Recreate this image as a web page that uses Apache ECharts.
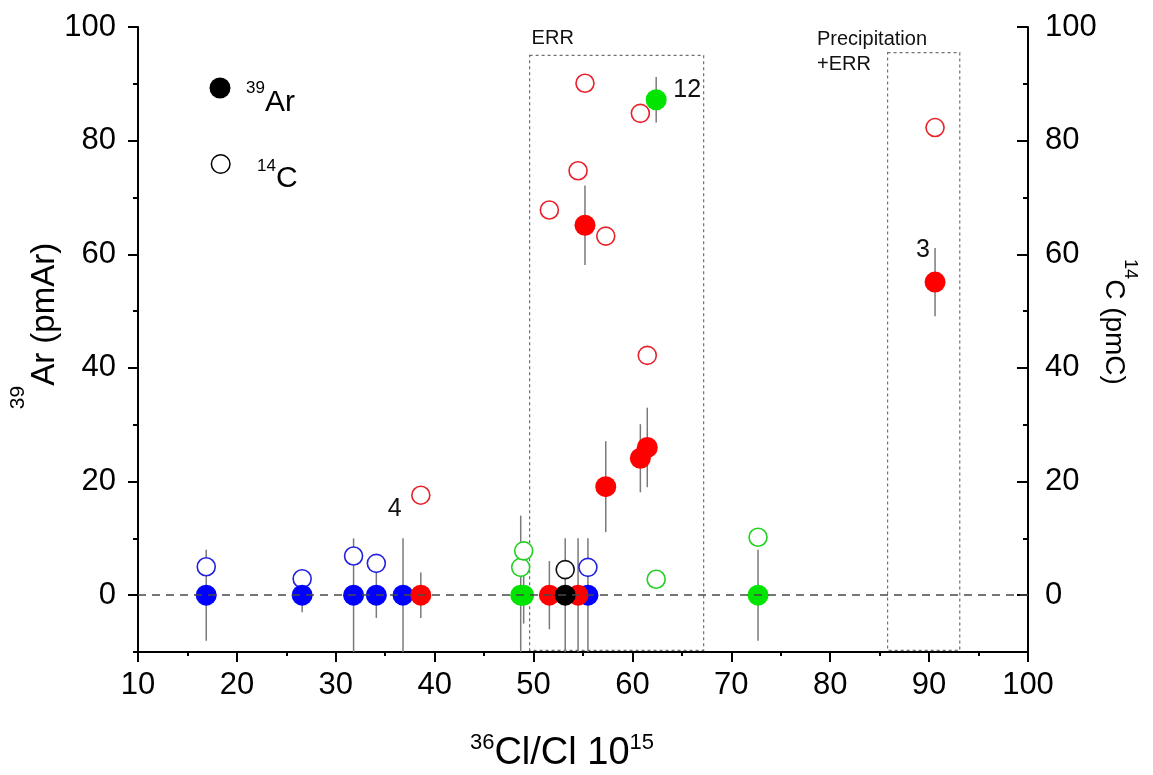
<!DOCTYPE html>
<html>
<head>
<meta charset="utf-8">
<title>39Ar and 14C versus 36Cl/Cl</title>
<script src="https://cdn.jsdelivr.net/npm/echarts@6/dist/echarts.min.js"></script>
<style>
  html, body { margin: 0; padding: 0; background: #fff; }
  #chart { width: 1153px; height: 775px; }
</style>
</head>
<body>
<div id="chart"></div>
<script>
// ---- sample data -------------------------------------------------------
// 36Cl/Cl ratio (x 10^15) for each sample
const clRatio = [16.9, 26.6, 31.8, 34.1, 36.8, 55.5,
                 38.6, 51.6, 54.5, 55.2, 57.3, 60.8, 61.5, 90.6,
                 48.7, 49.0, 62.4, 72.7,
                 53.2];
// 39Ar activity (pmAr) and its uncertainty
const ar39 = [0, 0, 0, 0, 0, 0,
              0, 0, 0, 65.1, 19.1, 24.1, 26.0, 55.1,
              0, 0, 87.2, 0,
              0];
const ar39Err = [8, 3, 10, 4, 10, 10,
                 4, 6, 10, 7, 8, 6, 7, 6,
                 14, 5, 4, 8,
                 10];
// 14C activity (pmC); null where not measured
const c14 = [5.0, 2.9, 6.9, 5.6, null, 4.9,
             17.6, 67.8, 74.7, 90.1, 63.2, 84.8, 42.2, 82.3,
             4.9, 7.8, 2.8, 10.2,
             4.5];
// sample group (index into the palettes below)
const sampleGroup = [0, 0, 0, 0, 0, 0,
                     1, 1, 1, 1, 1, 1, 1, 1,
                     2, 2, 2, 2,
                     3];
// sample numbers written next to selected points
const sampleTag = ['', '', '', '', '', '',
                   '4', '', '', '', '', '', '', '3',
                   '', '', '12', '',
                   ''];

// process windows along the 36Cl/Cl axis
const boxFrom = [49.6, 85.8];
const boxTo = [67.2, 93.1];
const boxTop = [95.0, 95.5];
const boxBottom = [-9.7, -9.7];
const boxText = ['ERR', 'Precipitation\n+ERR'];

// axis ticks
const xTicks = [10, 20, 30, 40, 50, 60, 70, 80, 90, 100];
const yMajor = [0, 20, 40, 60, 80, 100];
const yMinor = [-10, 10, 30, 50, 70, 90];
const Y_MIN = -10, Y_MAX = 100;

// ---- styling -----------------------------------------------------------
const FONT = "'Liberation Sans', Arial, Helvetica, sans-serif";
const fillColor = ['#0000ff', '#ff0000', '#00e400', '#000000'];
const ringColor = ['#2222dd', '#e8202a', '#22d022', '#111111'];
// where each sample number sits relative to its marker
const tagPlacement = {
  '4':  { on: 'c14', offset: [-26, 14] },
  '12': { on: 'ar',  offset: [31, -10] },
  '3':  { on: 'ar',  offset: [-12, -32] }
};
const boxTextPlacement = [
  { dx: 2, dy: -4.5 },
  { dx: -70.6, dy: 24 }
];

function tagLabel(i, kind) {
  const t = sampleTag[i];
  if (!t || tagPlacement[t].on !== kind) return undefined;
  return {
    show: true, position: 'inside', formatter: t,
    offset: tagPlacement[t].offset,
    fontFamily: FONT, fontSize: 25, color: '#111'
  };
}

function richTitle(mainSize, mainLine, supSize) {
  return {
    main: { fontFamily: FONT, fontSize: mainSize, lineHeight: mainLine, fill: '#000' },
    sup: { fontFamily: FONT, fontSize: supSize, lineHeight: supSize, verticalAlign: 'top', fill: '#000' }
  };
}

const series = [];

// dashed zero reference
series.push({
  type: 'line', data: [], z: 1, silent: true,
  markLine: {
    silent: true, symbol: 'none', label: { show: false },
    lineStyle: { color: '#4a4a4a', width: 1.5, type: [8, 6] },
    data: [{ yAxis: 0 }]
  }
});

// process windows
series.push({
  type: 'custom', z: 1, silent: true,
  data: boxFrom.map((v, i) => [v, boxTo[i], boxTop[i], boxBottom[i]]),
  renderItem(params, api) {
    const i = params.dataIndex;
    const p0 = api.coord([api.value(0), api.value(2)]);
    const p1 = api.coord([api.value(1), api.value(3)]);
    const pl = boxTextPlacement[i];
    return {
      type: 'group',
      children: [
        {
          type: 'rect',
          shape: { x: p0[0], y: p0[1], width: p1[0] - p0[0], height: p1[1] - p0[1] },
          style: { fill: 'none', stroke: '#707070', lineWidth: 1.2, lineDash: [3, 3] }
        },
        {
          type: 'text',
          x: p0[0] + pl.dx, y: p0[1] + pl.dy,
          style: {
            text: boxText[i], fontFamily: FONT, fontSize: 20, lineHeight: 25,
            fill: '#111', align: 'left', verticalAlign: 'bottom'
          }
        }
      ]
    };
  }
});

// 39Ar error bars
series.push({
  type: 'custom', z: 2, silent: true, clip: true,
  data: clRatio.map((x, i) => [x, ar39[i], ar39Err[i]]),
  renderItem(params, api) {
    const x = api.value(0), y = api.value(1), e = api.value(2);
    const lo = Math.max(y - e, Y_MIN), hi = Math.min(y + e, Y_MAX);
    const a = api.coord([x, lo]), b = api.coord([x, hi]);
    return {
      type: 'line',
      shape: { x1: a[0], y1: a[1], x2: b[0], y2: b[1] },
      style: { stroke: '#7a7a7a', lineWidth: 1.5 }
    };
  }
});

// 14C (open circles) then 39Ar (filled circles), one pair per group
for (let g = 0; g < fillColor.length; g++) {
  const cData = [], aData = [];
  clRatio.forEach((x, i) => {
    if (sampleGroup[i] !== g) return;
    if (c14[i] !== null) {
      const item = { value: [x, c14[i]] };
      const lb = tagLabel(i, 'c14');
      if (lb) item.label = lb;
      cData.push(item);
    }
    const a = { value: [x, ar39[i]] };
    const la = tagLabel(i, 'ar');
    if (la) a.label = la;
    aData.push(a);
  });
  series.push({
    name: '14C', type: 'scatter', yAxisIndex: 1, z: 3,
    symbol: 'circle', symbolSize: 18,
    itemStyle: { color: '#fff', borderColor: ringColor[g], borderWidth: 1.6, opacity: 1 },
    data: cData
  });
  series.push({
    name: '39Ar', type: 'scatter', yAxisIndex: 0, z: 4,
    symbol: 'circle', symbolSize: 21,
    itemStyle: { color: fillColor[g], opacity: 1 },
    data: aData
  });
}

const axisLineStyle = { color: '#000', width: 2 };
const tickLabel = { fontFamily: FONT, fontSize: 31, color: '#000' };

function yAxisDef(pos, kind) {
  const major = kind === 'major';
  return {
    type: 'value', position: pos, min: Y_MIN, max: Y_MAX, interval: 10,
    splitLine: { show: false },
    axisLine: { show: major, onZero: false, lineStyle: axisLineStyle },
    axisTick: {
      show: true, inside: pos === 'right',
      length: major ? (pos === 'right' ? 11 : 10) : 5,
      customValues: major ? yMajor : yMinor,
      lineStyle: { color: '#000', width: 2 }
    },
    axisLabel: major
      ? Object.assign({ customValues: yMajor, margin: pos === 'right' ? 17 : 22 }, tickLabel)
      : { show: false }
  };
}

const option = {
  animation: false,
  backgroundColor: '#fff',
  grid: { left: 138, right: 125, top: 27, bottom: 123, containLabel: false },
  xAxis: {
    type: 'value', min: 10, max: 100, interval: 10,
    splitLine: { show: false },
    axisLine: { onZero: false, lineStyle: axisLineStyle },
    axisTick: { length: 10, lineStyle: { color: '#000', width: 2 } },
    minorTick: { show: true, splitNumber: 2, length: 4, lineStyle: { color: '#000', width: 2 } },
    axisLabel: Object.assign({ margin: 18, customValues: xTicks }, tickLabel)
  },
  yAxis: [
    yAxisDef('left', 'major'),
    yAxisDef('right', 'major'),
    yAxisDef('left', 'minor'),
    yAxisDef('right', 'minor')
  ],
  graphic: [
    // marker key
    { type: 'circle', shape: { cx: 220, cy: 88, r: 10.5 }, style: { fill: '#000' } },
    {
      type: 'text', x: 246, y: 102.5,
      style: { text: '{sup|39}{main|Ar}', align: 'left', verticalAlign: 'middle', rich: richTitle(30, 46, 17) }
    },
    { type: 'circle', shape: { cx: 220.7, cy: 164, r: 9.3 }, style: { fill: '#fff', stroke: '#000', lineWidth: 1.5 } },
    {
      type: 'text', x: 257, y: 179,
      style: { text: '{sup|14}{main|C}', align: 'left', verticalAlign: 'middle', rich: richTitle(30, 43, 17) }
    },
    // axis titles
    {
      type: 'text', x: 45.4, y: 326, rotation: Math.PI / 2,
      style: { text: '{sup|39}{main|Ar (pmAr)}', align: 'center', verticalAlign: 'middle', rich: richTitle(33, 76, 21) }
    },
    {
      type: 'text', x: 1114, y: 322, rotation: -Math.PI / 2,
      style: { text: '{sup|14}{main|C (pmC)}', align: 'center', verticalAlign: 'middle', rich: richTitle(28, 50, 18) }
    },
    {
      type: 'text', x: 562, y: 754,
      style: { text: '{sup|36}{main|Cl/Cl 10}{sup|15}', align: 'center', verticalAlign: 'middle', rich: richTitle(38, 44, 22) }
    }
  ],
  series: series
};

const chart = echarts.init(document.getElementById('chart'), null, { renderer: 'canvas' });
chart.setOption(option);
</script>
</body>
</html>
